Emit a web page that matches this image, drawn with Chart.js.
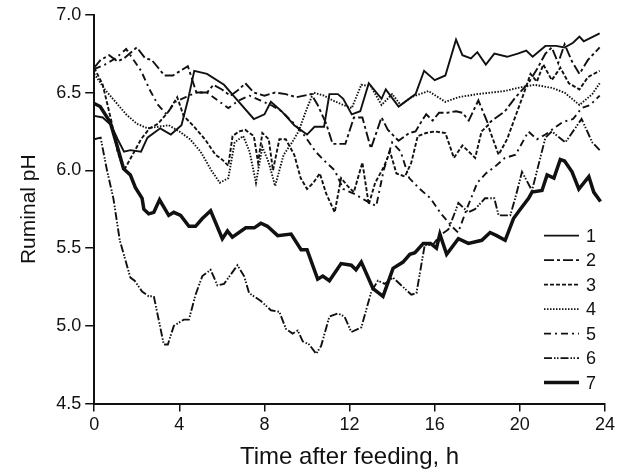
<!DOCTYPE html>
<html>
<head>
<meta charset="utf-8">
<script src="https://cdn.jsdelivr.net/npm/chart.js@4.4.1/dist/chart.umd.min.js"></script>
<style>
  html, body { margin: 0; padding: 0; background: #fff; }
  #wrap { width: 623px; height: 472px; }
</style>
</head>
<body>
<div id="wrap"><canvas id="phChart"></canvas></div>
<script>
// hours after feeding and ruminal pH, one pair of arrays per series
const h1 = [0, 0.4, 0.8, 1.1, 1.4, 1.7, 2.2, 2.5, 3.1, 3.6, 4.1, 4.4, 4.7, 5.3, 6.1, 6.6, 7.5, 8.0, 8.3, 8.8, 9.4, 10.0, 10.35, 10.8, 11.05, 11.45, 11.7, 12.1, 12.5, 12.9, 13.5, 13.7, 14.3, 15.1, 15.5, 16.0, 16.5, 17.0, 17.3, 17.7, 18.0, 18.4, 18.8, 19.4, 19.9, 20.3, 20.6, 21.2, 21.7, 22.1, 22.5, 22.8, 23.0, 23.75];
const ph1 = [6.35, 6.34, 6.29, 6.2, 6.12, 6.13, 6.12, 6.21, 6.27, 6.23, 6.29, 6.45, 6.64, 6.62, 6.55, 6.47, 6.33, 6.36, 6.44, 6.38, 6.29, 6.23, 6.28, 6.28, 6.49, 6.49, 6.46, 6.36, 6.38, 6.56, 6.46, 6.52, 6.41, 6.49, 6.64, 6.58, 6.61, 6.84, 6.74, 6.72, 6.76, 6.68, 6.75, 6.73, 6.75, 6.77, 6.73, 6.80, 6.80, 6.79, 6.82, 6.86, 6.83, 6.88];

const h2 = [0, 0.3, 0.7, 1.1, 1.4, 2.0, 2.4, 2.7, 3.3, 3.7, 4.4, 4.8, 5.3, 5.6, 6.0, 6.4, 6.8, 7.1, 7.5, 8.0, 8.5, 9.0, 9.5, 10.2, 10.5, 10.9, 11.2, 11.8, 12.2, 12.6, 13.0, 13.5, 13.8, 14.3, 14.8, 15.1, 15.4, 15.6, 15.9, 16.2, 16.6, 17.0, 17.3, 17.6, 18.05, 18.5, 19.3, 19.8, 20.4, 20.8, 21.2, 21.5, 21.8, 22.1, 22.45, 22.8, 23.2, 23.75];
const ph2 = [6.66, 6.71, 6.74, 6.70, 6.72, 6.79, 6.72, 6.71, 6.61, 6.61, 6.67, 6.5, 6.5, 6.55, 6.52, 6.48, 6.52, 6.56, 6.5, 6.48, 6.5, 6.49, 6.47, 6.49, 6.42, 6.3, 6.17, 6.17, 6.34, 6.34, 6.14, 6.34, 6.26, 6.19, 6.24, 6.25, 6.32, 6.36, 6.32, 6.37, 6.37, 6.38, 6.37, 6.32, 6.45, 6.3, 6.38, 6.47, 6.56, 6.65, 6.75, 6.79, 6.69, 6.81, 6.7, 6.62, 6.71, 6.79];

const h3 = [0, 0.4, 0.8, 1.1, 1.4, 1.8, 2.2, 2.6, 3.0, 3.5, 3.9, 4.2, 4.7, 5.2, 5.7, 6.0, 6.3, 6.5, 6.8, 7.1, 7.5, 7.7, 7.9, 8.2, 8.4, 8.7, 9.0, 9.4, 9.7, 10.0, 10.3, 10.6, 10.9, 11.3, 11.6, 11.9, 12.2, 12.6, 12.9, 13.2, 13.6, 13.9, 14.2, 14.6, 14.9, 15.2, 15.6, 16.0, 16.5, 16.9, 17.3, 17.9, 18.2, 18.5, 19.0, 19.4, 19.8, 20.2, 20.5, 20.8, 21.1, 21.5, 21.9, 22.3, 22.8, 23.2, 23.75];
const ph3 = [6.66, 6.55, 6.32, 6.12, 6.0, 6.1, 6.2, 6.27, 6.3, 6.38, 6.47, 6.35, 6.28, 6.2, 6.1, 6.07, 6.03, 6.22, 6.25, 6.26, 6.22, 6.05, 6.24, 6.2, 6.0, 6.2, 6.2, 6.1, 5.95, 5.88, 5.92, 5.98, 5.85, 5.73, 5.95, 5.9, 5.86, 6.05, 5.78, 5.92, 6.02, 6.12, 5.98, 5.96, 6.05, 6.22, 6.24, 6.25, 6.24, 6.08, 6.16, 6.08, 6.25, 6.29, 6.1, 6.2, 6.35, 6.5, 6.62, 6.57, 6.68, 6.58, 6.66, 6.56, 6.52, 6.6, 6.64];

const h4 = [0, 0.5, 1.0, 1.5, 2.0, 2.5, 3.0, 3.5, 4.0, 4.5, 5.0, 5.5, 5.9, 6.3, 6.6, 7.0, 7.3, 7.6, 7.9, 8.2, 8.5, 8.9, 9.3, 9.6, 10.0, 10.3, 10.8, 11.2, 11.7, 12.1, 12.55, 13.0, 13.5, 14.0, 14.4, 14.9, 15.7, 16.5, 17.1, 18.0, 19.3, 19.9, 20.7, 21.5, 22.1, 22.8, 23.4, 23.75];
const ph4 = [6.62, 6.52, 6.44, 6.36, 6.3, 6.27, 6.28, 6.29, 6.25, 6.2, 6.12, 6.0, 5.92, 5.95, 6.18, 6.22, 6.12, 5.92, 6.15, 6.05, 5.9, 6.1, 6.18, 6.25, 6.4, 6.5, 6.48, 6.45, 6.42, 6.40, 6.55, 6.54, 6.42, 6.49, 6.42, 6.47, 6.51, 6.44, 6.47, 6.49, 6.51, 6.53, 6.55, 6.53, 6.5, 6.42, 6.49, 6.56];

const h5 = [0, 0.5, 1.0, 1.5, 1.8, 2.2, 2.6, 3.0, 3.4, 3.8, 4.3, 4.8, 5.3, 5.8, 6.3, 6.8, 7.3, 7.8, 8.3, 8.8, 9.4, 9.9, 10.4, 10.9, 11.3, 11.7, 12.2, 12.7, 13.25, 13.6, 14.0, 14.4, 14.8, 15.3, 15.8, 16.3, 16.8, 17.1, 17.5, 18.0, 18.4, 18.8, 19.3, 19.8, 20.4, 20.8, 21.2, 21.6, 22.0, 22.5, 22.9, 23.3, 23.75];
const ph5 = [6.65, 6.68, 6.72, 6.78, 6.72, 6.64, 6.52, 6.42, 6.36, 6.44, 6.47, 6.5, 6.5, 6.45, 6.4, 6.45, 6.48, 6.45, 6.42, 6.38, 6.3, 6.22, 6.12, 6.05, 6.0, 5.88, 5.85, 5.81, 5.77, 6.0, 6.18, 6.12, 5.95, 5.88, 5.82, 5.72, 5.64, 5.6, 5.75, 5.92, 5.98, 6.02, 6.08, 6.1, 6.25, 6.2, 6.23, 6.27, 6.31, 6.33, 6.4, 6.42, 6.48];

const h6 = [0, 0.3, 0.6, 0.9, 1.2, 1.7, 1.9, 2.25, 2.56, 2.8, 3.27, 3.46, 3.74, 4.21, 4.45, 4.76, 5.08, 5.47, 5.79, 6.1, 6.73, 7.04, 7.28, 7.83, 8.3, 8.7, 9.01, 9.32, 9.56, 9.8, 10.1, 10.43, 10.66, 11.05, 11.45, 11.76, 12.08, 12.55, 13.02, 13.33, 13.65, 14.04, 14.9, 15.14, 15.53, 15.9, 16.24, 16.64, 16.95, 17.11, 17.58, 17.89, 18.36, 18.8, 19.0, 19.55, 19.78, 20.1, 20.57, 21.2, 21.5, 22.14, 22.9, 23.4, 23.75];
const ph6 = [6.2, 6.21, 6.0, 5.82, 5.55, 5.31, 5.29, 5.22, 5.19, 5.19, 4.88, 4.88, 5.0, 5.04, 5.04, 5.2, 5.32, 5.36, 5.26, 5.27, 5.39, 5.32, 5.21, 5.16, 5.10, 5.09, 4.98, 4.95, 4.97, 4.90, 4.88, 4.82, 4.87, 5.06, 5.08, 5.06, 4.96, 4.99, 5.22, 5.29, 5.27, 5.31, 5.2, 5.21, 5.52, 5.52, 5.58, 5.62, 5.73, 5.79, 5.73, 5.75, 5.82, 5.82, 5.71, 5.71, 5.82, 5.99, 5.87, 6.21, 6.25, 6.18, 6.33, 6.18, 6.13];

const h7 = [0, 0.28, 0.75, 1.07, 1.38, 1.7, 1.93, 2.25, 2.33, 2.56, 2.8, 3.07, 3.5, 3.74, 4.06, 4.45, 4.76, 5.08, 5.47, 6.02, 6.26, 6.49, 7.12, 7.52, 7.83, 8.14, 8.62, 9.25, 9.72, 10.0, 10.5, 10.74, 11.05, 11.6, 12.08, 12.3, 12.55, 13.1, 13.57, 14.04, 14.51, 14.83, 15.07, 15.46, 15.8, 16.08, 16.24, 16.56, 17.11, 17.58, 18.21, 18.6, 18.91, 19.31, 19.7, 20.02, 20.41, 20.57, 21.04, 21.28, 21.6, 21.9, 22.1, 22.45, 22.77, 23.24, 23.47, 23.79];
const ph7 = [6.43, 6.41, 6.31, 6.16, 6.01, 5.97, 5.89, 5.82, 5.75, 5.72, 5.73, 5.81, 5.71, 5.73, 5.71, 5.64, 5.64, 5.69, 5.74, 5.56, 5.61, 5.57, 5.63, 5.63, 5.66, 5.64, 5.58, 5.59, 5.49, 5.49, 5.30, 5.32, 5.29, 5.40, 5.39, 5.36, 5.41, 5.24, 5.19, 5.37, 5.41, 5.46, 5.47, 5.53, 5.53, 5.50, 5.59, 5.46, 5.56, 5.53, 5.55, 5.60, 5.58, 5.55, 5.69, 5.75, 5.82, 5.86, 5.87, 5.97, 5.95, 6.07, 6.06, 5.99, 5.88, 5.96, 5.86, 5.80];

const seriesNames = ["1", "2", "3", "4", "5", "6", "7"];
const seriesHours = [h1, h2, h3, h4, h5, h6, h7];
const seriesPh = [ph1, ph2, ph3, ph4, ph5, ph6, ph7];

const dashes = [[], [10, 3, 3, 3], [4, 2], [1.5, 1.5], [7, 4, 2, 4], [8, 2, 1.5, 1.5, 1.5, 2], []];
const widths = [1.9, 1.9, 1.9, 1.9, 1.9, 1.9, 3.5];

const ink = "#111";

const pairUp = (hours, ph) => hours.map((h, i) => ({ x: h, y: ph[i] }));

// legend sits inside the plot, lower right, sample line then the number
const insideLegend = {
  id: "insideLegend",
  afterDatasetsDraw(chart) {
    const { ctx, chartArea } = chart;
    const n = chart.data.datasets.length;
    ctx.save();
    ctx.font = "18px Arial, 'Liberation Sans', sans-serif";
    ctx.fillStyle = ink;
    ctx.textBaseline = "middle";
    chart.data.datasets.forEach((ds, i) => {
      const y = chartArea.bottom - 21 - (n - 1 - i) * 24.5;
      ctx.beginPath();
      ctx.setLineDash(ds.borderDash);
      ctx.lineWidth = ds.borderWidth;
      ctx.strokeStyle = ink;
      ctx.moveTo(chartArea.right - 61, y);
      ctx.lineTo(chartArea.right - 26, y);
      ctx.stroke();
      ctx.setLineDash([]);
      ctx.fillText(ds.label, chartArea.right - 19, y + 1);
    });
    ctx.restore();
  },
};

const axisFont = { family: "Arial, 'Liberation Sans', sans-serif", size: 18 };

new Chart(document.getElementById("phChart"), {
  type: "line",
  data: {
    datasets: seriesNames.map((name, i) => ({
      label: name,
      data: pairUp(seriesHours[i], seriesPh[i]),
      borderColor: ink,
      borderWidth: widths[i],
      borderDash: dashes[i],
      pointRadius: 0,
      tension: 0,
      fill: false,
    })),
  },
  options: {
    responsive: true,
    maintainAspectRatio: false,
    animation: false,
    layout: {
      padding: { left: 13, right: 18, top: 13, bottom: 0 },
    },
    plugins: {
      legend: { display: false },
      tooltip: { enabled: false },
    },
    scales: {
      x: {
        type: "linear",
        min: 0,
        max: 24,
        ticks: { stepSize: 4, color: ink, font: axisFont, padding: 3 },
        grid: { drawOnChartArea: false, tickLength: 8, color: ink, lineWidth: 1.5 },
        border: { color: ink, width: 2 },
        title: {
          display: true,
          text: "Time after feeding, h",
          color: ink,
          font: { family: axisFont.family, size: 24 },
          padding: { top: 4, bottom: 0 },
        },
      },
      y: {
        min: 4.5,
        max: 7.0,
        ticks: {
          stepSize: 0.5,
          color: ink,
          font: axisFont,
          padding: 4,
          callback: (v) => v.toFixed(1),
        },
        grid: { drawOnChartArea: false, tickLength: 9, color: ink, lineWidth: 1.5 },
        border: { color: ink, width: 2 },
        title: {
          display: true,
          text: "Ruminal pH",
          color: ink,
          font: { family: axisFont.family, size: 21 },
          padding: { top: 4, bottom: 10 },
        },
      },
    },
  },
  plugins: [insideLegend],
});
</script>
</body>
</html>
